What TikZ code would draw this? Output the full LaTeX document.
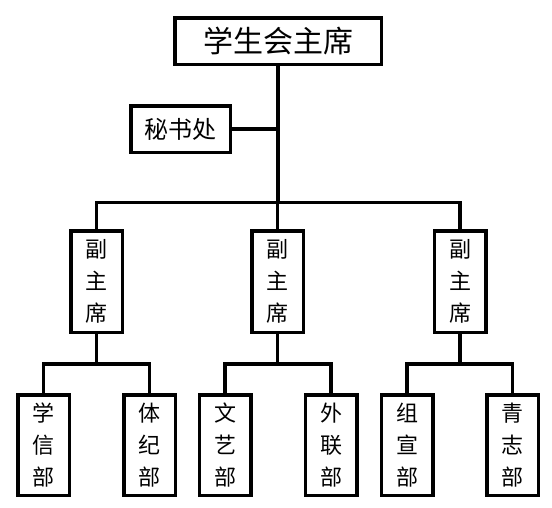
\documentclass[tikz,border=0pt]{standalone}
\usepackage{fontspec}
\newfontfamily\cjk{Noto Sans CJK SC}
\usepackage{tikz}

\begin{document}
\begin{tikzpicture}[x=1pt, y=-1pt, line width=3.5pt,
		box/.style={draw, inner sep=0pt, align=center, font=\cjk\fontsize{22}{32}\selectfont},
		vbox/.style={box, minimum width=51.5pt, minimum height=101.5pt},
		dbox/.style={box, minimum width=51.5pt, minimum height=100.5pt}]
			\useasboundingbox (0,0) rectangle (552,507);
			% top levels
			\node[box, minimum width=206.5pt, minimum height=46.5pt, font=\cjk\fontsize{30}{32}\selectfont] (chair) at (278,41) {学生会主席};
			\node[box, minimum width=99.5pt, minimum height=46.5pt, font=\cjk\fontsize{24}{30}\selectfont] (sec) at (180.5,129) {秘书处};
			\node[vbox] (vice1) at (96.5,281.5) {副\\主\\席};
			\node[vbox] (vice2) at (277.5,281.5) {副\\主\\席};
			\node[vbox] (vice3) at (460,281.5) {副\\主\\席};
			% departments
			\node[dbox] (xuexin) at (43.5,445) {学\\信\\部};
			\node[dbox] (tiji) at (149.5,445) {体\\纪\\部};
			\node[dbox] (wenyi) at (225,445) {文\\艺\\部};
			\node[dbox] (wailian) at (331,445) {外\\联\\部};
			\node[dbox] (zuxuan) at (407,445) {组\\宣\\部};
			\node[dbox] (qingzhi) at (512.5,445) {青\\志\\部};
			\coordinate (bar) at (0,202.5);
			\coordinate (fork) at (0,364);
			% connectors
			\draw (chair.south) -- (chair.south |- bar);
			\draw (sec.east) -- (sec.east -| chair.south);
			\draw (vice1.north) |- (bar -| chair.south) -| (vice3.north);
			\draw (vice2.north) -- (vice2.north |- bar);
			\draw (vice1.south) -- (vice1.south |- fork);
			\draw (vice2.south) -- (vice2.south |- fork);
			\draw (vice3.south) -- (vice3.south |- fork);
			\draw (xuexin.north) |- (vice1.south |- fork) -| (tiji.north);
			\draw (wenyi.north) |- (vice2.south |- fork) -| (wailian.north);
			\draw (zuxuan.north) |- (vice3.south |- fork) -| (qingzhi.north);
		\end{tikzpicture}
\end{document}
